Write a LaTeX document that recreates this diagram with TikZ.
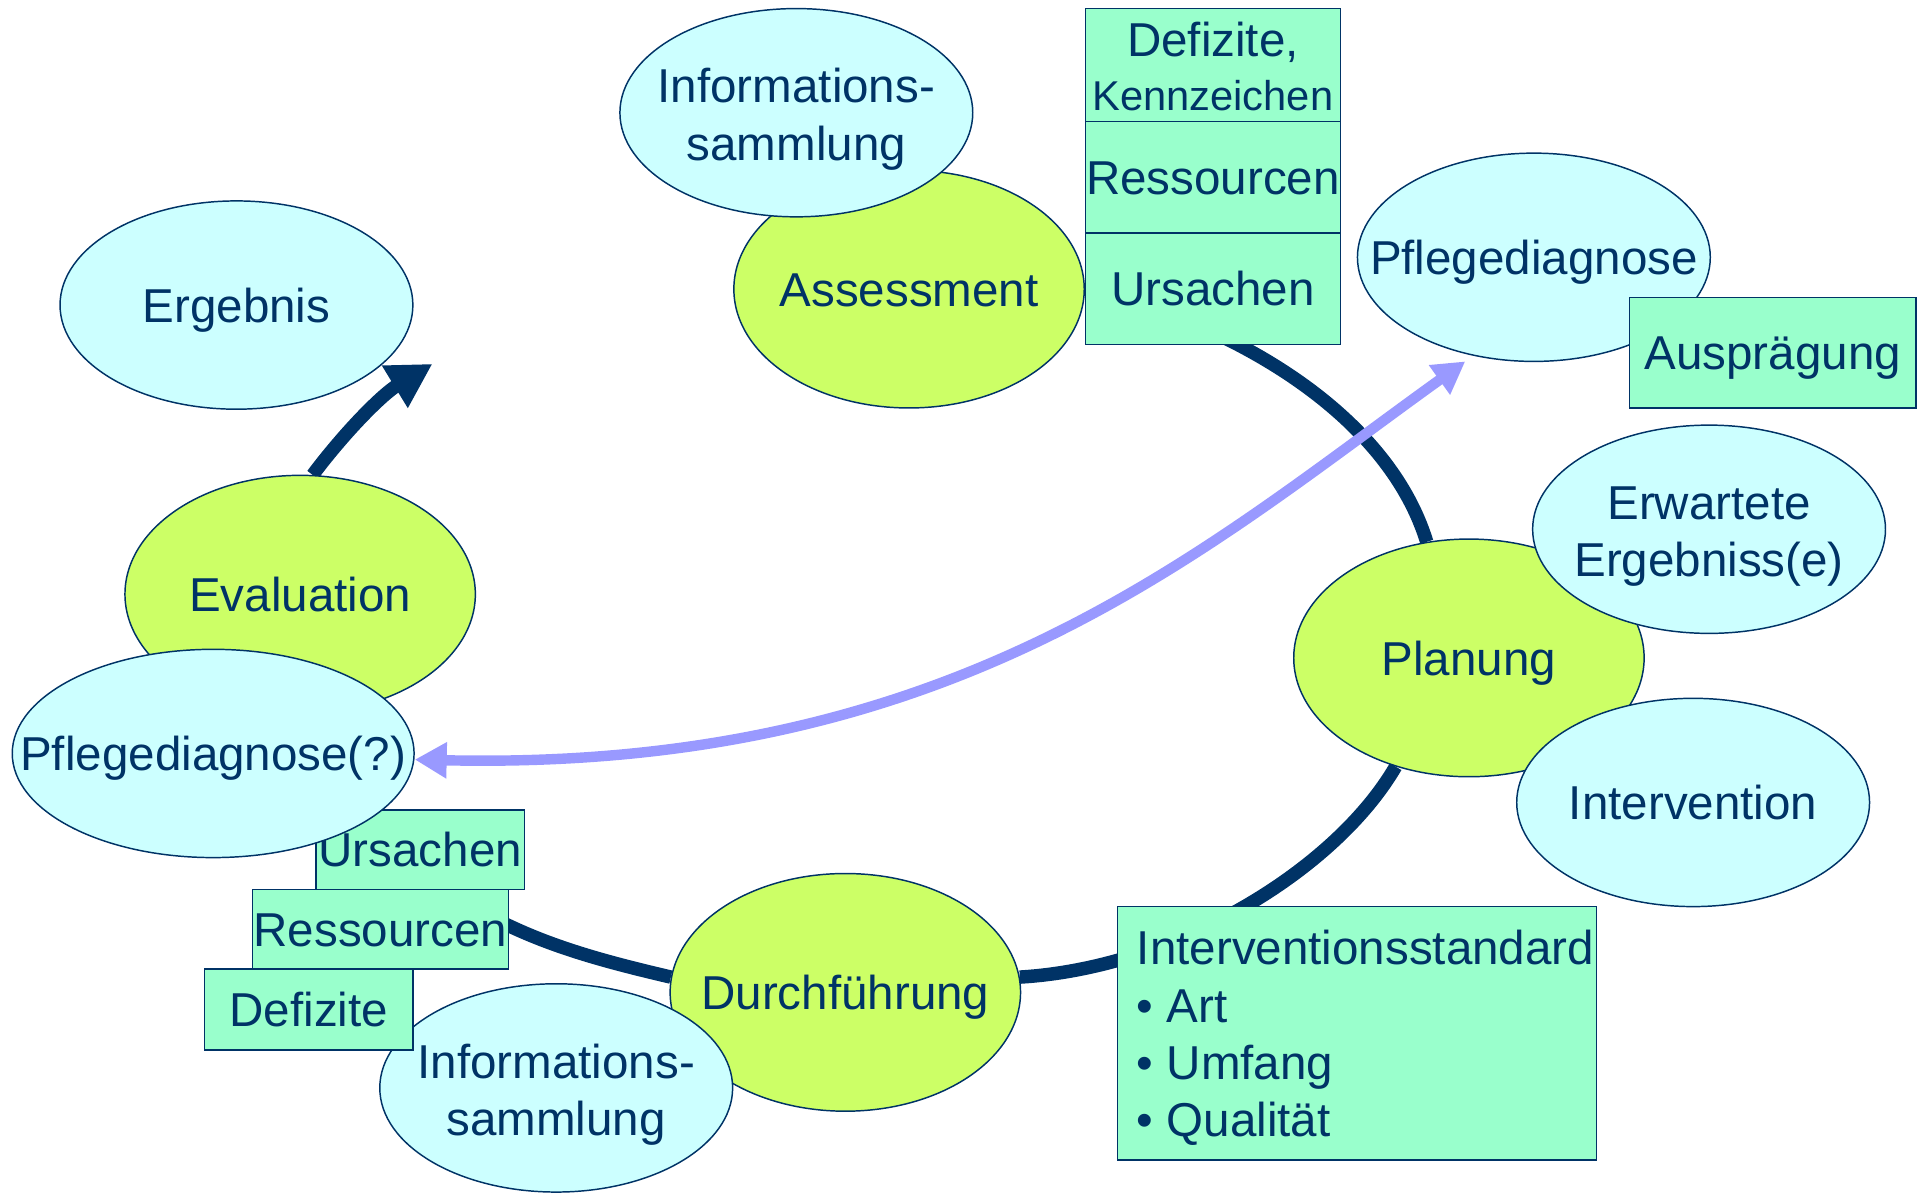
\documentclass[tikz,border=0pt]{standalone}
\usepackage{fontspec}
\setmainfont{Liberation Sans}
\usetikzlibrary{shapes.geometric,arrows.meta,backgrounds}
\definecolor{navy}{HTML}{003366}
\definecolor{lgreen}{HTML}{CCFF66}
\definecolor{lcyan}{HTML}{CCFFFF}
\definecolor{lmint}{HTML}{99FFCC}
\definecolor{lpurple}{HTML}{9999FF}
\newcommand{\twol}[2]{\makebox[0pt]{\raisebox{-6pt}[\height][\depth]{\begin{tabular}{@{}c@{}}#1\\#2\end{tabular}}}}
\newcommand{\onel}[1]{\makebox[0pt]{#1}}
\tikzset{
  base/.style={font=\fontsize{38.8pt}{46.8pt}\selectfont, text=navy, draw=navy, line width=1.2pt, inner sep=0pt},
  oneline/.style={text height=28pt, text depth=0pt},
  phase/.style={base, ellipse, fill=lgreen, minimum width=286pt, minimum height=194pt},
  info/.style={base, ellipse, fill=lcyan, minimum width=288pt, minimum height=170pt},
  tagbox/.style={base, rectangle, fill=lmint},
  cyc/.style={draw=navy, line width=11pt},
  link/.style={draw=lpurple, line width=8.5pt},
}
\begin{document}
\begin{tikzpicture}[x=1pt, y=1pt]
\useasboundingbox (0,0) rectangle (1568,-973);
% top
\node[phase, oneline] (as) at (742,-236) {\onel{Assessment}};
\node[info] (inf1) at (650,-92) {\twol{Informations-}{sammlung}};
\node[tagbox, minimum width=208pt, minimum height=92pt] (dk) at (990,-53) {\makebox[0pt]{\raisebox{-6pt}[\height][\depth]{\begin{tabular}{@{}c@{}}Defizite,\\[-3pt]{\fontsize{34pt}{40pt}\selectfont Kennzeichen}\end{tabular}}}};
\node[tagbox, oneline, minimum width=208pt, minimum height=91pt] (rs1) at (990,-144.5) {\onel{Ressourcen}};
\node[tagbox, oneline, minimum width=208pt, minimum height=91pt] (us1) at (990,-235.5) {\onel{Ursachen}};
\node[info, oneline] (pd1) at (1252,-210) {\onel{Pflegediagnose}};
\node[tagbox, oneline, minimum width=234pt, minimum height=90pt] (ap) at (1447,-288) {\onel{Ausprägung}};
% left
\node[info, oneline] (eg) at (193,-249) {\onel{Ergebnis}};
\node[phase, oneline] (ev) at (245,-485) {\onel{Evaluation}};
\node[tagbox, oneline, minimum width=170pt, minimum height=65pt] (us2) at (343,-693.5) {\onel{Ursachen}};
\node[info, oneline, minimum width=328pt] (pd2) at (174,-615) {\onel{Pflegediagnose(?)}};
\node[tagbox, oneline, minimum width=209pt, minimum height=65pt] (rs2) at (310.5,-758.5) {\onel{Ressourcen}};
% bottom
\node[phase, oneline] (du) at (690,-810) {\onel{Durchführung}};
\node[info] (inf2) at (454,-888) {\twol{Informations-}{sammlung}};
\node[tagbox, oneline, minimum width=170pt, minimum height=66pt] (df) at (252,-824) {\onel{Defizite}};
% right
\node[phase, oneline] (pl) at (1199,-537) {\onel{Planung}};
\node[info] (ee) at (1395,-432) {\twol{Erwartete}{Ergebniss(e)}};
\node[info, oneline] (iv) at (1382,-655) {\onel{Intervention}};
\node[tagbox, minimum width=391pt, minimum height=207pt] (is) at (1107.5,-843.5) {\makebox[359pt][l]{\raisebox{-5pt}[\height][\depth]{\begin{tabular}{@{}l@{}}Interventionsstandard\\• Art\\• Umfang\\• Qualität\end{tabular}}}};
% free ends
\coordinate (ergtip) at (353,-297);
\coordinate (pdtip) at (1196,-295);
% cycle
\begin{pgfonlayer}{background}
\draw[cyc] (as.east) .. controls (990,-258) and (1130,-330) .. (pl.110);
\draw[cyc] (pl.236) .. controls (1090,-710) and (960,-790) .. (du.5);
\draw[cyc] (du.175) .. controls (430,-770) and (330,-740) .. (ev.south);
\draw[cyc, -{Triangle[length=36pt,width=38pt]}] (ev.84) .. controls (282,-352) and (312,-322) .. (ergtip);
\end{pgfonlayer}
\draw[link, {Triangle[length=26pt,width=28pt]}-{Triangle[length=26pt,width=28pt]}] ([yshift=-5pt]pd2.east) .. controls (780,-630) and (980,-450) .. (pdtip);
\end{tikzpicture}
\end{document}
